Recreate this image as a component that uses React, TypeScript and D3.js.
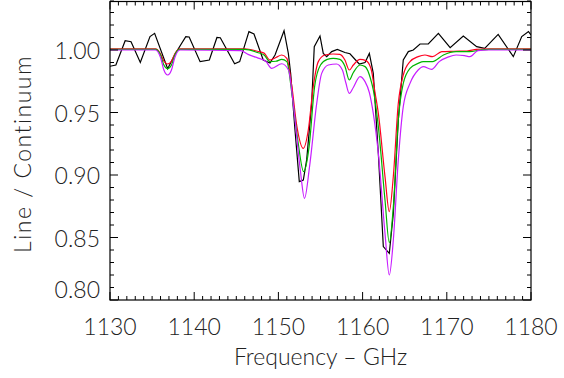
import React from "react";
import * as d3 from "d3";

// Observed spectrum (black)
const obsFreq = [1130.0,1130.7,1131.8,1132.5,1133.6,1134.75,1135.3,1136.85,1137.8,1139.0,1139.4,1140.7,1141.8,1142.7,1143.1,1144.8,1145.4,1146.5,1147.1,1148.2,1149.0,1149.6,1150.67,1151.18,1151.46,1151.97,1152.48,1152.96,1153.36,1153.95,1154.26,1154.94,1155.33,1155.74,1156.33,1157.0,1157.9,1158.5,1159.6,1160.29,1160.8,1161.27,1161.87,1162.46,1163.17,1163.65,1164.24,1164.83,1165.43,1166.02,1166.82,1167.8,1169.0,1170.4,1171.96,1173.55,1174.5,1176.1,1177.9,1178.9,1179.7,1180.0];
const obsVal = [0.987,0.988,1.0074,1.0066,0.990,1.0107,1.0133,0.985,0.9976,1.0107,1.0104,0.9907,0.992,1.010,1.0098,0.989,0.9907,1.0147,1.0128,0.992,0.9896,0.996,1.0154,0.9973,0.981,0.936,0.8947,0.896,0.9123,0.9573,1.0026,1.0112,0.9973,0.9947,0.9987,1.0005,0.998,0.997,0.9888,0.990,0.9973,0.9813,0.917,0.8427,0.8373,0.869,0.944,0.992,0.9987,1.0,1.0048,1.0048,1.0133,1.0019,1.0112,1.0027,1.0013,1.0125,0.9947,1.0107,1.0147,1.012];

// Model spectra
const redFreq = [1130,1135.4,1136.0,1136.4,1136.85,1137.3,1137.7,1138.3,1146.0,1147.5,1148.3,1149.0,1149.7,1150.4,1151.0,1151.6,1152.2,1152.96,1153.55,1154.14,1154.74,1155.53,1156.5,1157.3,1157.9,1158.42,1158.9,1159.69,1160.4,1161.0,1161.5,1161.87,1162.66,1163.17,1163.65,1164.24,1164.83,1165.63,1166.6,1167.4,1168.3,1169.4,1170.8,1172.4,1173.5,1175,1180];
const redVal = [1.001,1.001,0.997,0.991,0.9888,0.991,0.997,1.001,1.001,0.999,0.9975,0.992,0.994,0.996,0.9933,0.9707,0.9387,0.9213,0.936,0.9707,0.9907,0.996,0.9968,0.9965,0.992,0.984,0.988,0.9925,0.9915,0.985,0.965,0.9493,0.8987,0.8707,0.899,0.9573,0.98,0.9907,0.9947,0.996,0.9947,0.9987,0.999,0.9992,1.0005,1.001,1.001];

const greenFreq = [1130,1135.4,1136.0,1136.4,1136.85,1137.3,1137.7,1138.3,1146.0,1147.5,1148.3,1149.0,1149.7,1150.4,1151.0,1151.6,1152.3,1153.0,1153.65,1154.3,1155.0,1155.8,1156.5,1157.3,1157.9,1158.42,1158.9,1159.69,1160.3,1160.9,1161.27,1161.87,1162.66,1163.17,1163.65,1164.24,1164.83,1165.63,1166.6,1167.2,1168.3,1169.6,1171.1,1172.7,1174.0,1175,1180];
const greenVal = [1.0005,1.0005,0.996,0.988,0.985,0.988,0.996,1.0005,1.0005,0.998,0.996,0.9907,0.991,0.9925,0.9907,0.9653,0.928,0.9027,0.9227,0.9707,0.988,0.9925,0.9933,0.9925,0.987,0.976,0.982,0.988,0.9867,0.978,0.968,0.9387,0.88,0.8459,0.8747,0.944,0.9733,0.9853,0.9893,0.9907,0.9907,0.996,0.9987,0.9987,1.0,1.0005,1.0005];

const magFreq = [1130,1135.4,1136.0,1136.4,1136.85,1137.3,1137.7,1138.3,1145.5,1146.4,1147.6,1148.5,1149.2,1150.4,1151.2,1151.8,1152.6,1153.1,1153.7,1154.55,1155.14,1155.93,1156.9,1157.6,1158.0,1158.42,1158.9,1159.69,1160.29,1160.8,1161.27,1161.87,1162.66,1163.17,1163.65,1164.24,1164.83,1165.63,1166.6,1167.2,1168.2,1169.1,1170.2,1171.1,1172.1,1172.75,1173.7,1175,1180];
const magVal = [1.0,1.0,0.994,0.984,0.98,0.984,0.994,1.0,0.9995,0.9965,0.9935,0.991,0.9853,0.989,0.984,0.9547,0.904,0.8813,0.9067,0.9573,0.9813,0.988,0.9888,0.984,0.974,0.9653,0.970,0.9787,0.9747,0.966,0.9493,0.9173,0.8533,0.82,0.848,0.912,0.9547,0.9733,0.984,0.9867,0.9845,0.9907,0.9945,0.996,0.9955,0.9947,0.9995,1.0,1.0];

const xTicks = [1130, 1140, 1150, 1160, 1170, 1180];
const yTicks = [0.8, 0.85, 0.9, 0.95, 1.0];
const yTickLabels = ["0.80", "0.85", "0.90", "0.95", "1.00"];

const W = 564, H = 378;
const L = 110, R = 531, T = 1.5, B = 300;

export default function App() {
  const x = d3.scaleLinear().domain([1130, 1180]).range([L, R]);
  const yy = d3.scaleLinear().domain([0.8, 1.0]).range([B, B - 250]);

  const mk = (fs: number[], vs: number[], curve: any) =>
    d3.line<number>().x((_, i) => x(fs[i])).y((v) => yy(v)).curve(curve)(vs) || "";

  const minorX = d3.range(1130, 1181, 1);
  const minorY = d3.range(0, 25).map((i) => 0.8 + i * 0.01);

  const font = "Lato, 'Liberation Sans', sans-serif";
  const txt = "#222";

  return (
    <svg width={W} height={H} style={{ position: "absolute", left: 0, top: 0, background: "#fff" }}>
      <defs>
        <clipPath id="clip"><rect x={L} y={T} width={R - L} height={B - T} /></clipPath>
      </defs>
      <g clipPath="url(#clip)" fill="none" strokeWidth={1.2}>
        <path d={mk(obsFreq, obsVal, d3.curveLinear)} stroke="#000" />
        <path d={mk(redFreq, redVal, d3.curveMonotoneX)} stroke="#ff0020" />
        <path d={mk(greenFreq, greenVal, d3.curveMonotoneX)} stroke="#00b400" />
        <path d={mk(magFreq, magVal, d3.curveMonotoneX)} stroke="#c81eff" />
      </g>
      <rect x={L} y={T} width={R - L} height={B - T} fill="none" stroke="#000" strokeWidth={1.2} />
      <g stroke="#000" strokeWidth={1}>
        {minorX.map((f) => {
          const major = f % 10 === 0;
          const len = major ? 8 : 4;
          return (
            <g key={"x" + f}>
              <line x1={x(f)} x2={x(f)} y1={B} y2={B - len} />
              <line x1={x(f)} x2={x(f)} y1={T} y2={T + len} />
            </g>
          );
        })}
        {minorY.map((v, i) => {
          const major = i % 5 === 0;
          const len = major ? 8 : 4;
          return (
            <g key={"y" + i}>
              <line x1={L} x2={L + len} y1={yy(v)} y2={yy(v)} />
              <line x1={R} x2={R - len} y1={yy(v)} y2={yy(v)} />
            </g>
          );
        })}
      </g>
      <g fontFamily={font} fontWeight={300} fontSize={23} fill={txt}>
        {xTicks.map((t) => (
          <text key={t} x={x(t)} y={335} textAnchor="middle">{t}</text>
        ))}
        {yTicks.map((t, i) => (
          <text key={t} x={100} y={i === 0 ? yy(t) - 2 : yy(t) + 9} textAnchor="end">{yTickLabels[i]}</text>
        ))}
        <text x={(L + R) / 2} y={365} textAnchor="middle">Frequency – GHz</text>
        <text transform={`translate(31,${154}) rotate(-90)`} textAnchor="middle" letterSpacing={1.5}>Line / Continuum</text>
      </g>
    </svg>
  );
}
